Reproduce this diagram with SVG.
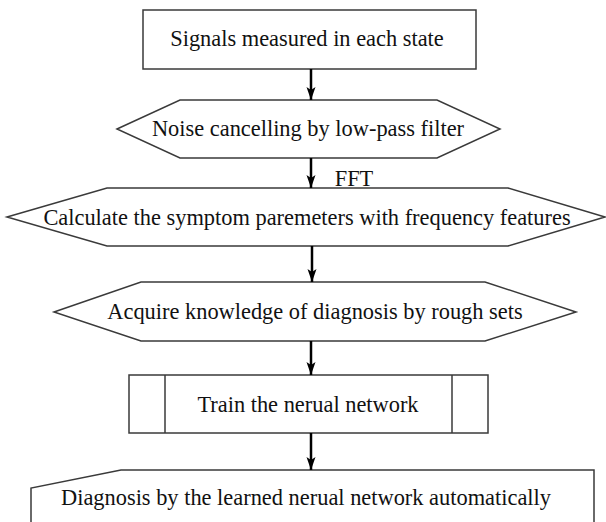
<svg xmlns="http://www.w3.org/2000/svg" width="606" height="522" viewBox="0 0 606 522">
<style>
.shape{fill:#fff;stroke:#3a3a3a;stroke-width:1.5}
.lbl{font-family:"Liberation Serif","Times New Roman",serif;font-size:22.4px;fill:#111;text-anchor:middle}
.conn{stroke:#000;stroke-width:2.5;fill:none}
</style>
<defs>
<marker id="ah" markerUnits="userSpaceOnUse" markerWidth="13" markerHeight="10" viewBox="0 0 13 10" refX="13" refY="5" orient="auto">
<path d="M0,0.5 L13,5 L0,9.5 L3,5 Z" fill="#000"/>
</marker>
</defs>
<rect width="606" height="522" fill="#fff"/>
<g id="n1">
<rect class="shape" x="143" y="10" width="333" height="59"/>
<text class="lbl" x="307" y="46">Signals measured in each state</text>
</g>
<g id="n2">
<polygon class="shape" points="117,129 180,100 437,100 500,129 437,158 180,158"/>
<text class="lbl" x="308" y="136">Noise cancelling by low-pass filter</text>
</g>
<g id="n3">
<polygon class="shape" points="7,217 107,188 508,188 605,217 508,246 107,246"/>
<text class="lbl" x="307" y="225">Calculate the symptom paremeters with frequency features</text>
</g>
<g id="n4">
<polygon class="shape" points="54,312 141,282 485,282 576,312 485,341 141,341"/>
<text class="lbl" x="315" y="319">Acquire knowledge of diagnosis by rough sets</text>
</g>
<g id="n5">
<rect class="shape" x="129" y="375" width="359" height="58"/>
<line class="shape" x1="165" y1="375" x2="165" y2="433"/>
<line class="shape" x1="452" y1="375" x2="452" y2="433"/>
<text class="lbl" x="308" y="412">Train the nerual network</text>
</g>
<g id="n6">
<path class="shape" d="M31,530 L31,488 L121,470 L594,470 L594,530"/>
<text class="lbl" x="306" y="505">Diagnosis by the learned nerual network automatically</text>
</g>
<g id="connectors">
<line class="conn" x1="311" y1="69" x2="311" y2="100" marker-end="url(#ah)"/>
<line class="conn" x1="311" y1="158" x2="311" y2="188" marker-end="url(#ah)"/>
<line class="conn" x1="312" y1="246" x2="312" y2="282" marker-end="url(#ah)"/>
<line class="conn" x1="311" y1="341" x2="311" y2="375" marker-end="url(#ah)"/>
<line class="conn" x1="311" y1="433" x2="311" y2="470" marker-end="url(#ah)"/>
<text class="lbl" x="354" y="186">FFT</text>
</g>
</svg>
